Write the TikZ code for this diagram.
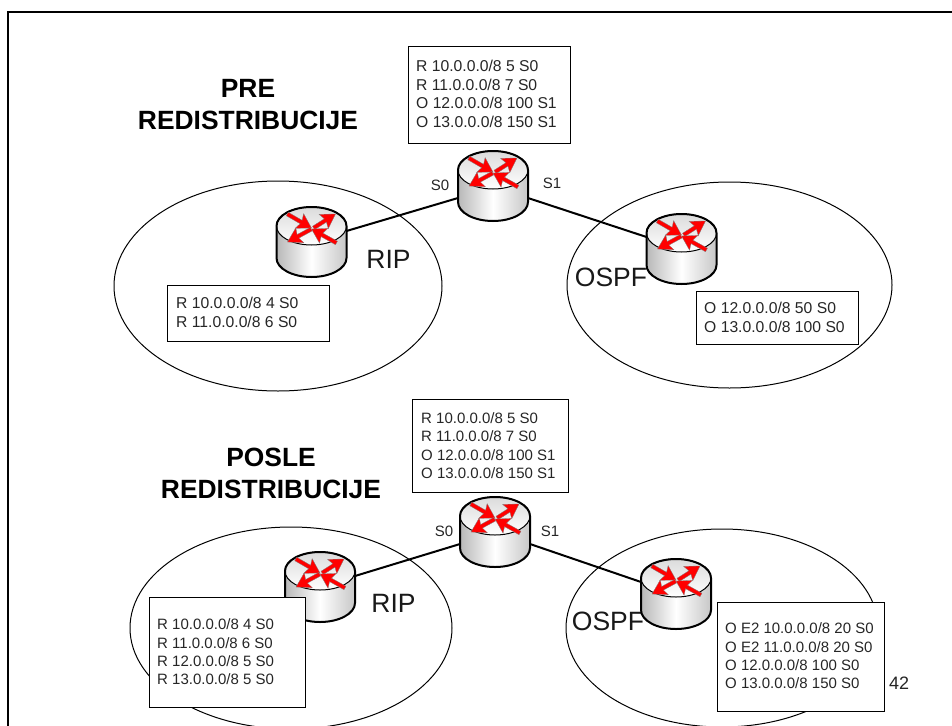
\documentclass[tikz,border=0pt]{standalone}
\usepackage{fontspec}
\setmainfont{Liberation Sans}
\usetikzlibrary{calc}
\tikzset{
  x=1pt,y=-1pt,
  frame/.style={draw=black,line width=2pt},
  area/.style={draw=black,line width=1pt},
  linkline/.style={draw=black,line width=2pt},
  tablebox/.style={draw=black,fill=white,line width=1pt,anchor=north west,inner sep=0pt},
  tabletext/.style={text=black!85,font=\fontsize{15}{18.3}\selectfont,align=left,anchor=west,inner sep=0pt},
  tabletextb/.style={tabletext,font=\fontsize{15.7}{18.7}\selectfont},
  ifl/.style={font=\fontsize{15}{18}\selectfont,text=black!85,inner sep=0pt},
  proto/.style={font=\fontsize{26.5}{30}\selectfont,inner sep=0pt,text=black!90},
  head/.style={font=\bfseries\fontsize{26.4}{32}\selectfont,align=center,inner sep=0pt},
  rarrow/.style={fill=red,draw=black!50,line width=.3pt},
}
% one arrow: tip x, tip y, angle, length
\newcommand{\routerarrow}[4]{%
 \begin{scope}[shift={(#1,#2)},rotate=#3]
  \path[rarrow] (0,0) -- (-14,8.5) -- (-12,2) -- (-#4,2) -- (-#4,-2) -- (-12,-2) -- (-14,-8.5) -- cycle;
 \end{scope}}
% router centred at (#1,#2)
\newcommand{\routerdraw}[2]{%
 \begin{scope}[shift={(#1,#2)}]
  \path[left color=black!28,right color=black!22,middle color=white] (-35,-16) -- (-35,16) arc[x radius=35,y radius=19,start angle=180,end angle=0] -- (35,-16) -- cycle;
  \path[top color=black!14,bottom color=white,draw=black,line width=1pt] (0,-16) ellipse[x radius=35,y radius=19];
  \draw[line width=2pt] (-35,-16) -- (-35,16) arc[x radius=35,y radius=19,start angle=180,end angle=0] -- (35,-16) arc[x radius=35,y radius=19,start angle=0,end angle=-180];
  \routerarrow{0}{-14}{-30}{28}
  \routerarrow{24}{-28}{32.5}{26}
  \routerarrow{-24}{0}{208.4}{27}
  \routerarrow{0}{-13}{150.8}{28.6}
 \end{scope}}
\begin{document}
\begin{tikzpicture}
\useasboundingbox (0,0) rectangle (952,725);
\path[fill=white] (0,0) rectangle (952,725);
\path[clip] (0,0) rectangle (952,725);
\draw[frame] (8,740) -- (8,12) -- (960,12);

% ellipses
\draw[area] (278,286) ellipse[x radius=164,y radius=105];
\draw[area] (729.5,285) ellipse[x radius=162.5,y radius=103];
\draw[area] (291,628) ellipse[x radius=161,y radius=101];
\draw[area] (722,628) ellipse[x radius=156,y radius=99];

% links first, under routers
\coordinate (ra) at (311.5,242);
\coordinate (rb) at (493,186);
\coordinate (rc) at (681.5,249);
\coordinate (rd) at (320,587);
\coordinate (re) at (495,532);
\coordinate (rf) at (676,594);
\draw[linkline] ($(ra)+(35,-11)$) -- ($(rb)+(-35,12)$);
\draw[linkline] ($(rb)+(35,12)$) -- ($(rc)+(-35,-12)$);
\draw[linkline] ($(rd)+(35,-11)$) -- ($(re)+(-35,12)$);
\draw[linkline] ($(re)+(35,12)$) -- ($(rf)+(-35,-12)$);

% labels under routers
\node[proto] (l1) at (388.5,259) {RIP};
\node[proto] (l2) at (611,277.5) {OSPF};
\node[proto] (l3) at (393.5,603) {RIP};
\node[proto] (l4) at (608,621) {OSPF};

% routers
\routerdraw{311.5}{242}
\routerdraw{493}{186}
\routerdraw{681.5}{249}
\routerdraw{320}{587}
\routerdraw{495}{532}
\routerdraw{676}{594}

% tables
\node[tablebox,minimum width=162.5pt,minimum height=97pt] (t1) at (407.5,46) {};
\node[tabletextb] (t1x) at (416,94) {R 10.0.0.0/8 5 S0\\R 11.0.0.0/8 7 S0\\O 12.0.0.0/8 100 S1\\O 13.0.0.0/8 150 S1};
\node[tablebox,minimum width=162pt,minimum height=56pt] (t2) at (167,285) {};
\node[tabletextb] (t2x) at (176,312.5) {R 10.0.0.0/8 4 S0\\R 11.0.0.0/8 6 S0};
\node[tablebox,minimum width=162pt,minimum height=53pt] (t3) at (696,291) {};
\node[tabletextb] (t3x) at (704,317.5) {O 12.0.0.0/8 50 S0\\O 13.0.0.0/8 100 S0};
\node[tablebox,minimum width=156pt,minimum height=93pt] (t4) at (412,399) {};
\node[tabletext] (t4x) at (421,445.5) {R 10.0.0.0/8 5 S0\\R 11.0.0.0/8 7 S0\\O 12.0.0.0/8 100 S1\\O 13.0.0.0/8 150 S1};
\node[tablebox,minimum width=156pt,minimum height=110pt] (t5) at (149,597) {};
\node[tabletext] (t5x) at (157,652) {R 10.0.0.0/8 4 S0\\R 11.0.0.0/8 6 S0\\R 12.0.0.0/8 5 S0\\R 13.0.0.0/8 5 S0};
\node[tablebox,minimum width=167pt,minimum height=109pt] (t6) at (717,602) {};
\node[tabletext] (t6x) at (725,656) {O E2 10.0.0.0/8 20 S0\\O E2 11.0.0.0/8 20 S0\\O 12.0.0.0/8 100 S0\\O 13.0.0.0/8 150 S0};

\node[head] (h1) at (248,104.5) {PRE\\REDISTRIBUCIJE};
\node[head] (h2) at (271,473) {POSLE\\REDISTRIBUCIJE};
\node[ifl] (s1) at (440,185) {S0};
\node[ifl] (s2) at (552,183) {S1};
\node[ifl] (s3) at (444,531) {S0};
\node[ifl] (s4) at (550,531) {S1};
\node[font=\fontsize{18}{20}\selectfont,inner sep=0pt,text=black!85] (pg) at (899,683) {42};
\end{tikzpicture}
\end{document}
